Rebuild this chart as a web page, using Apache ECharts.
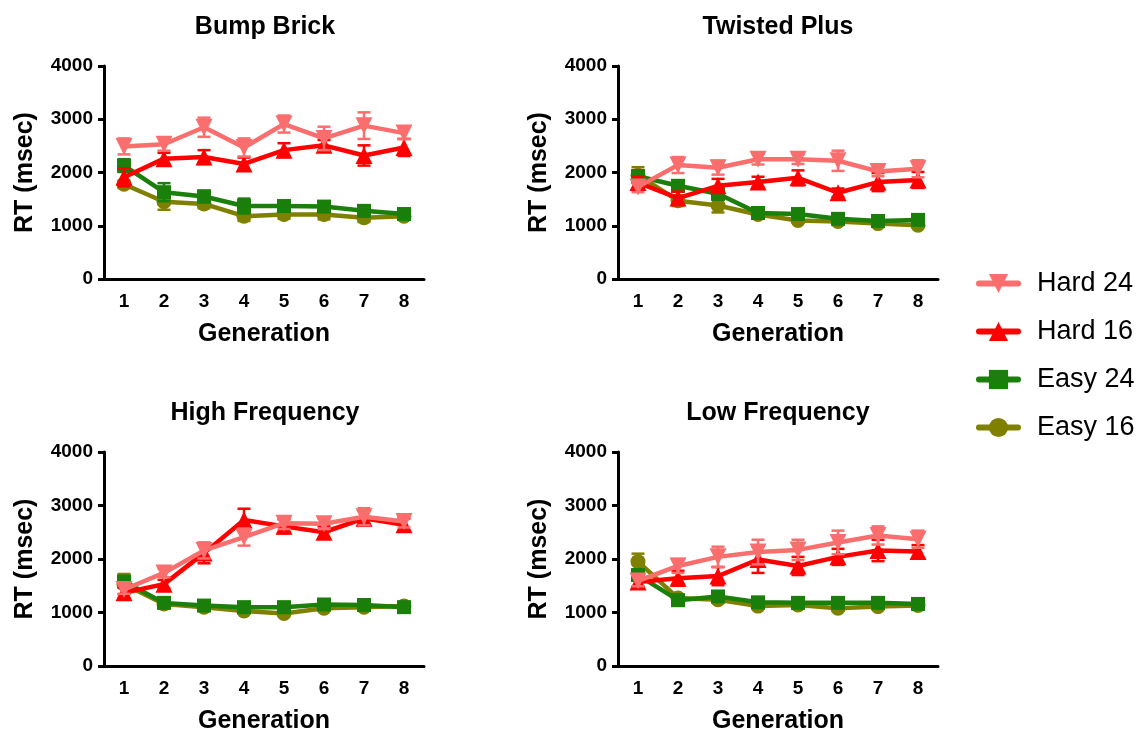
<!DOCTYPE html>
<html>
<head>
<meta charset="utf-8">
<script src="https://cdn.jsdelivr.net/npm/echarts@6.0.0/dist/echarts.min.js"></script>
<style>
  html, body { margin: 0; padding: 0; background: #fff; }
  #chart { width: 1140px; height: 735px; }
</style>
</head>
<body>
<div id="chart"></div>
<script>
// generations on the x axis
const generations = ['1', '2', '3', '4', '5', '6', '7', '8']
const yTicks = [0, 1000, 2000, 3000, 4000]

// Bump Brick (mean RT, error half-length)
const bumpHard24 = [2490, 2530, 2850, 2470, 2910, 2640, 2880, 2740]
const bumpHard24Err = [150, 120, 180, 170, 160, 220, 250, 110]
const bumpHard16 = [1910, 2260, 2290, 2160, 2420, 2510, 2320, 2470]
const bumpHard16Err = [170, 110, 130, 120, 130, 100, 190, 160]
const bumpEasy24 = [2130, 1630, 1550, 1370, 1370, 1360, 1280, 1220]
const bumpEasy24Err = [120, 170, 110, 140, 100, 90, 100, 70]
const bumpEasy16 = [1780, 1450, 1410, 1180, 1210, 1210, 1150, 1180]
const bumpEasy16Err = [70, 150, 80, 90, 80, 90, 80, 60]

// Twisted Plus
const twistHard24 = [1730, 2140, 2090, 2250, 2250, 2220, 2020, 2070]
const twistHard24Err = [100, 150, 130, 100, 90, 190, 90, 160]
const twistHard16 = [1810, 1520, 1750, 1820, 1900, 1620, 1820, 1860]
const twistHard16Err = [110, 120, 130, 100, 140, 80, 170, 150]
const twistEasy24 = [1930, 1750, 1600, 1240, 1220, 1130, 1090, 1110]
const twistEasy24Err = [110, 90, 110, 50, 50, 50, 50, 50]
const twistEasy16 = [1950, 1470, 1380, 1210, 1100, 1080, 1040, 1010]
const twistEasy16Err = [150, 100, 130, 40, 40, 40, 40, 40]

// High Frequency
const highHard24 = [1430, 1740, 2160, 2410, 2670, 2660, 2790, 2700]
const highHard24Err = [80, 80, 150, 160, 110, 100, 160, 110]
const highHard16 = [1370, 1530, 2110, 2730, 2610, 2500, 2760, 2640]
const highHard16Err = [100, 80, 190, 210, 130, 110, 140, 120]
const highEasy24 = [1580, 1180, 1130, 1100, 1100, 1150, 1140, 1100]
const highEasy24Err = [90, 80, 60, 70, 70, 70, 70, 60]
const highEasy16 = [1530, 1160, 1100, 1030, 980, 1080, 1100, 1120]
const highEasy16Err = [190, 50, 50, 50, 50, 40, 50, 40]

// Low Frequency
const lowHard24 = [1590, 1870, 2040, 2130, 2170, 2310, 2440, 2370]
const lowHard24Err = [100, 130, 190, 230, 190, 220, 170, 160]
const lowHard16 = [1570, 1640, 1680, 1990, 1870, 2040, 2160, 2140]
const lowHard16Err = [90, 140, 170, 250, 170, 150, 200, 120]
const lowEasy24 = [1700, 1230, 1300, 1190, 1180, 1180, 1180, 1160]
const lowEasy24Err = [100, 50, 60, 50, 50, 50, 50, 40]
const lowEasy16 = [1950, 1270, 1240, 1120, 1140, 1080, 1110, 1130]
const lowEasy16Err = [150, 50, 50, 50, 50, 50, 50, 40]

const panelTitles = ['Bump Brick', 'Twisted Plus', 'High Frequency', 'Low Frequency']
const legendNames = ['Hard 24', 'Hard 16', 'Easy 24', 'Easy 16']

const panels = [
  { 'Hard 24': [bumpHard24, bumpHard24Err], 'Hard 16': [bumpHard16, bumpHard16Err], 'Easy 24': [bumpEasy24, bumpEasy24Err], 'Easy 16': [bumpEasy16, bumpEasy16Err] },
  { 'Hard 24': [twistHard24, twistHard24Err], 'Hard 16': [twistHard16, twistHard16Err], 'Easy 24': [twistEasy24, twistEasy24Err], 'Easy 16': [twistEasy16, twistEasy16Err] },
  { 'Hard 24': [highHard24, highHard24Err], 'Hard 16': [highHard16, highHard16Err], 'Easy 24': [highEasy24, highEasy24Err], 'Easy 16': [highEasy16, highEasy16Err] },
  { 'Hard 24': [lowHard24, lowHard24Err], 'Hard 16': [lowHard16, lowHard16Err], 'Easy 24': [lowEasy24, lowEasy24Err], 'Easy 16': [lowEasy16, lowEasy16Err] },
]

const FONT = '"Liberation Sans", Arial, Helvetica, sans-serif'
const STYLE = {
  'Hard 24': { color: '#fa6e6e', symbol: 'triangle', rotate: 180, size: 17 },
  'Hard 16': { color: '#ff0000', symbol: 'triangle', rotate: 0, size: 17 },
  'Easy 24': { color: '#1a7f0b', symbol: 'rect', rotate: 0, size: 14 },
  'Easy 16': { color: '#808000', symbol: 'circle', rotate: 0, size: 15 },
}
// back to front
const drawOrder = ['Easy 16', 'Easy 24', 'Hard 16', 'Hard 24']

const grids = [
  { left: 104, top: 66, width: 320, height: 213 },
  { left: 618, top: 66, width: 320, height: 213 },
  { left: 104, top: 452, width: 320, height: 214 },
  { left: 618, top: 452, width: 320, height: 214 },
]

const xAxes = grids.map((g, i) => ({
  type: 'category', gridIndex: i, data: generations, boundaryGap: true,
  name: 'Generation', nameLocation: 'middle', nameGap: 43,
  nameTextStyle: { fontFamily: FONT, fontWeight: 'bold', fontSize: 25, color: '#000' },
  axisLine: { lineStyle: { color: '#000', width: 3 } },
  axisTick: { alignWithLabel: true, length: 6, lineStyle: { color: '#000', width: 3 } },
  axisLabel: { fontFamily: FONT, fontWeight: 'bold', fontSize: 19, color: '#000', margin: 13 },
  splitLine: { show: false },
}))

const yAxes = grids.map((g, i) => ({
  type: 'value', gridIndex: i, min: yTicks[0], max: yTicks[yTicks.length - 1], interval: 1000,
  name: 'RT (msec)', nameLocation: 'middle', nameGap: 66,
  nameTextStyle: { fontFamily: FONT, fontWeight: 'bold', fontSize: 25, color: '#000' },
  axisLine: { show: true, lineStyle: { color: '#000', width: 3 } },
  axisTick: { show: true, length: 6, lineStyle: { color: '#000', width: 3 } },
  axisLabel: { fontFamily: FONT, fontWeight: 'bold', fontSize: 19, color: '#000', margin: 11, formatter: v => String(v) },
  splitLine: { show: false },
}))

const series = []
panels.forEach((panel, pi) => {
  drawOrder.forEach((name, k) => {
    const [means, errs] = panel[name]
    const st = STYLE[name]
    series.push({
      name, type: 'line', xAxisIndex: pi, yAxisIndex: pi,
      data: means, symbol: st.symbol, symbolSize: st.size, symbolRotate: st.rotate,
      itemStyle: { color: st.color }, lineStyle: { color: st.color, width: 4.5 },
      z: 2 + k * 2, animation: false,
    })
    series.push({
      name: name + ' err', type: 'custom', xAxisIndex: pi, yAxisIndex: pi,
      data: means.map((m, j) => [j, m - errs[j], m + errs[j]]),
      encode: { x: 0, y: [1, 2] }, z: 3 + k * 2, animation: false, silent: true,
      renderItem: (params, api) => {
        const x = api.value(0)
        const top = api.coord([x, api.value(2)])
        const bot = api.coord([x, api.value(1)])
        const w = 6.5
        const style = { stroke: st.color, lineWidth: 2.5 }
        return { type: 'group', children: [
          { type: 'line', shape: { x1: top[0], y1: top[1], x2: bot[0], y2: bot[1] }, style },
          { type: 'line', shape: { x1: top[0] - w, y1: top[1], x2: top[0] + w, y2: top[1] }, style },
          { type: 'line', shape: { x1: bot[0] - w, y1: bot[1], x2: bot[0] + w, y2: bot[1] }, style },
        ]}
      },
    })
  })
})

const titleCenters = [[265, 27], [778, 27], [265, 413], [778, 413]]
const graphic = panelTitles.map((t, i) => ({
  type: 'text', x: titleCenters[i][0], y: titleCenters[i][1],
  style: { text: t, align: 'center', verticalAlign: 'middle', textAlign: 'center', textVerticalAlign: 'middle',
    font: 'bold 25px ' + FONT, fill: '#000' },
}))

const chart = echarts.init(document.getElementById('chart'))
chart.setOption({
  backgroundColor: '#fff',
  animation: false,
  grid: grids,
  xAxis: xAxes,
  yAxis: yAxes,
  legend: {
    data: legendNames, orient: 'vertical', left: 976, top: 270, padding: 0,
    itemWidth: 39, itemHeight: 24, itemGap: 21,
    lineStyle: { width: 6, cap: 'round' },
    textStyle: { fontFamily: FONT, fontSize: 27, color: '#000', padding: [0, 0, 0, 14] },
  },
  graphic,
  series,
})
</script>
</body>
</html>
